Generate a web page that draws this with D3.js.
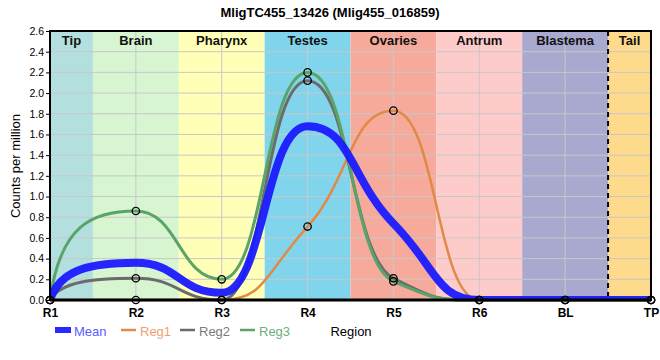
<!DOCTYPE html>
<html><head><meta charset="utf-8">
<script src="https://cdn.jsdelivr.net/npm/d3@7"></script>
<style>body{margin:0;background:#fff}svg{display:block}text{font-family:"Liberation Sans",Arial,sans-serif}</style>
</head><body><svg id="c" width="660" height="360"></svg>
<script>
const categories = ["R1","R2","R3","R4","R5","R6","BL","TP"];
const yTicks = [0,0.2,0.4,0.6,0.8,1.0,1.2,1.4,1.6,1.8,2.0,2.2,2.4,2.6];
const meanVals = [0,0.36,0.07,1.68,0.74,0,0,0];
const reg1Vals = [0,0,0,0.71,1.83,0,0,0];
const reg2Vals = [0,0.21,0,2.12,0.21,0,0,0];
const reg3Vals = [0,0.86,0.2,2.2,0.18,0,0,0];
const regionNames = ["Tip","Brain","Pharynx","Testes","Ovaries","Antrum","Blastema","Tail"];
const regionColors = ["#b3e0de","#d6f5d0","#ffffb8","#80d5ec","#f5aa9c","#fecbcb","#a9a8cf","#fdda8c"];
const regionStart = [0,0.5,1.5,2.5,3.5,4.5,5.5,6.5];
const regionEnd = [0.5,1.5,2.5,3.5,4.5,5.5,6.5,7];

// smooth curve: monotone tangents with long horizontal handles
function SmoothCurve(context){ this._context = context; }
SmoothCurve.prototype = {
  areaStart(){ this._line = 0; }, areaEnd(){ this._line = NaN; },
  lineStart(){ this._xs = []; this._ys = []; },
  point(x,y){ this._xs.push(+x); this._ys.push(+y); },
  lineEnd(){
    const xs=this._xs, ys=this._ys, n=xs.length, c=this._context, k=0.5;
    if(!n) return;
    const sgn = v => v<0?-1:1;
    const m = new Array(n).fill(0);
    for(let i=1;i<n-1;i++){
      const h0=xs[i]-xs[i-1], h1=xs[i+1]-xs[i];
      const s0=(ys[i]-ys[i-1])/h0, s1=(ys[i+1]-ys[i])/h1;
      const p=(s0*h1+s1*h0)/(h0+h1);
      m[i]=(sgn(s0)+sgn(s1))*Math.min(Math.abs(s0),Math.abs(s1),0.5*Math.abs(p))||0;
    }
    c.moveTo(xs[0],ys[0]);
    for(let i=0;i<n-1;i++){
      const h=xs[i+1]-xs[i], dy=ys[i+1]-ys[i];
      let c1x,c1y,c2x,c2y;
      if(i===0){ c1x=xs[i]+0.12*h; c1y=ys[i]+0.85*dy; }
      else { c1x=xs[i]+k*h; c1y=ys[i]+k*h*m[i]; }
      if(i===n-2){ c2x=xs[i+1]-0.12*h; c2y=ys[i+1]-0.85*dy; }
      else { c2x=xs[i+1]-k*h; c2y=ys[i+1]-k*h*m[i+1]; }
      c.bezierCurveTo(c1x,c1y,c2x,c2y,xs[i+1],ys[i+1]);
    }
  }
};
const smoothCurve = ctx => new SmoothCurve(ctx);

const svg = d3.select("#c");
const L=50,R=651,T=31,B=300;
const x = d3.scaleLinear().domain([0,7]).range([L,R]);
const y = d3.scaleLinear().domain([0,2.6]).range([B,T]);

svg.append("clipPath").attr("id","clip").append("rect").attr("x",L).attr("y",T).attr("width",R-L).attr("height",B-T);

// bands
svg.selectAll("rect.band").data(regionNames).enter().append("rect")
 .attr("x",(d,i)=>x(regionStart[i])).attr("y",T)
 .attr("width",(d,i)=>x(regionEnd[i])-x(regionStart[i])).attr("height",B-T)
 .attr("fill",(d,i)=>regionColors[i]);

// grid
svg.selectAll("line.hg").data(yTicks).enter().append("line")
 .attr("x1",L).attr("x2",R).attr("y1",d=>y(d)).attr("y2",d=>y(d))
 .attr("stroke","#c8c8c8").attr("stroke-width",1);
svg.selectAll("line.vg").data(categories).enter().append("line")
 .attr("x1",(d,i)=>x(i)).attr("x2",(d,i)=>x(i)).attr("y1",T).attr("y2",B)
 .attr("stroke","#c8c8c8").attr("stroke-width",1);

// band labels
svg.selectAll("text.bl").data(regionNames).enter().append("text")
 .attr("x",(d,i)=>(x(regionStart[i])+x(regionEnd[i]))/2).attr("y",45)
 .attr("text-anchor","middle").attr("font-size",13).attr("font-weight","bold").attr("fill","#111")
 .text(d=>d);

// dashed separator
svg.append("line").attr("x1",x(6.5)).attr("x2",x(6.5)).attr("y1",T).attr("y2",B)
 .attr("stroke","#000").attr("stroke-width",2).attr("stroke-dasharray","5,4");

const line = d3.line().x((d,i)=>x(i)).y(d=>y(d)).curve(smoothCurve);
const series = [
 {name:"Reg1",vals:reg1Vals,color:"#e08a45",w:2.5},
 {name:"Reg2",vals:reg2Vals,color:"#6b6b6b",w:3},
 {name:"Reg3",vals:reg3Vals,color:"#5aa469",w:3},
];
series.forEach(s=>{
 svg.append("path").attr("d",line(s.vals)).attr("fill","none").attr("stroke",s.color).attr("stroke-width",s.w);
});
svg.append("path").attr("d",line(meanVals)).attr("fill","none").attr("stroke","#1a1aff")
 .attr("stroke-width",8).attr("opacity",0.95).attr("clip-path","url(#clip)");

// axes frame
svg.append("rect").attr("x",L).attr("y",T).attr("width",R-L).attr("height",B-T)
 .attr("fill","none").attr("stroke","#000").attr("stroke-width",2);
svg.append("line").attr("x1",L).attr("x2",R).attr("y1",B).attr("y2",B).attr("stroke","#000").attr("stroke-width",3);

series.forEach(s=>{
 svg.selectAll(null).data(s.vals).enter().append("circle")
  .attr("cx",(d,i)=>x(i)).attr("cy",d=>y(d)).attr("r",3.7)
  .attr("fill","none").attr("stroke","#000").attr("stroke-width",1.3);
});

// y axis
const ya = svg.append("g").attr("transform",`translate(${L},0)`)
 .call(d3.axisLeft(y).tickValues(yTicks).tickFormat(d3.format(".1f")).tickSize(4).tickSizeOuter(0));
ya.select(".domain").remove();
ya.selectAll("line").attr("stroke","#000");
ya.selectAll("text").attr("font-size",10.5).attr("fill","#000").attr("x",-6).style("font-family","Liberation Sans, Arial, sans-serif");

// x axis labels
const xa = svg.append("g").attr("transform",`translate(0,${B})`)
 .call(d3.axisBottom(d3.scalePoint().domain(categories).range([L,R])).tickSize(0).tickPadding(8));
xa.select(".domain").remove();
xa.selectAll("text").attr("font-size",12).attr("font-weight","bold").attr("fill","#000").style("font-family","Liberation Sans, Arial, sans-serif");

// titles
svg.append("text").attr("x",330).attr("y",17).attr("text-anchor","middle").attr("font-size",13).attr("font-weight","bold").text("MligTC455_13426 (Mlig455_016859)");
svg.append("text").attr("transform","translate(20,166) rotate(-90)").attr("text-anchor","middle").attr("font-size",13).text("Counts per million");
svg.append("text").attr("x",351).attr("y",336).attr("text-anchor","middle").attr("font-size",13).text("Region");

// legend
const leg = [
 {name:"Mean",color:"#2a2aff",text:"#5c5cff",x:55,rect:true},
 {name:"Reg1",color:"#e08a45",text:"#eea070",x:121},
 {name:"Reg2",color:"#6b6b6b",text:"#7a7a7a",x:180},
 {name:"Reg3",color:"#5aa469",text:"#6cb07a",x:240},
];
leg.forEach(l=>{
 if(l.rect) svg.append("rect").attr("x",l.x).attr("y",327).attr("width",16).attr("height",6).attr("fill",l.color);
 else svg.append("line").attr("x1",l.x).attr("x2",l.x+15).attr("y1",330).attr("y2",330).attr("stroke",l.color).attr("stroke-width",2.5);
 svg.append("text").attr("x",l.x+19).attr("y",336).attr("font-size",13).attr("fill",l.text).text(l.name);
});
</script></body></html>
